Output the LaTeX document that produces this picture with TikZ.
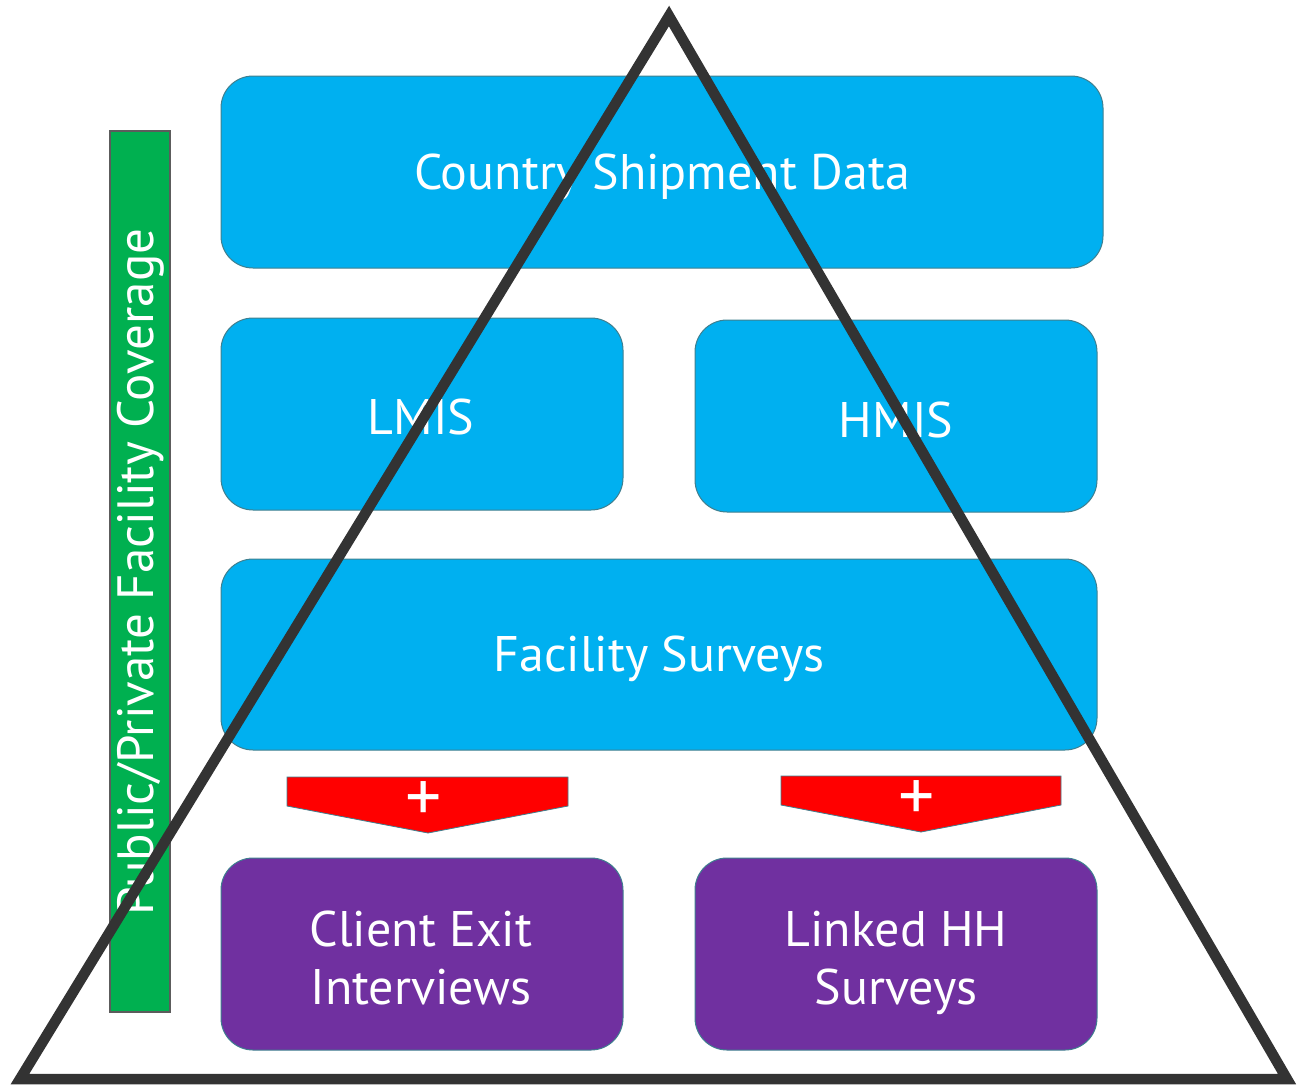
\documentclass[tikz,border=0pt]{standalone}
\usepackage{fontspec}
\setmainfont{PT Sans}
\definecolor{boxblue}{HTML}{00B0F0}
\definecolor{boxpurple}{HTML}{7030A0}
\definecolor{bargreen}{HTML}{00B050}
\definecolor{arrred}{HTML}{FF0000}
\definecolor{tri}{HTML}{333333}
\definecolor{edge}{HTML}{3F7F8F}
\begin{document}
\begin{tikzpicture}[x=1pt,y=-1pt,
  box/.style={draw=edge, line width=1pt, rounded corners=32pt, text=white, align=center,
    inner sep=0pt},
  bluebox/.style={box, fill=boxblue},
  purplebox/.style={box, fill=boxpurple},
  lbl/.style={text=white, inner sep=0pt, font=\fontsize{50}{58}\selectfont},
  redarrow/.style={fill=arrred, draw=edge, line width=0.8pt},
  plus/.style={text=white, font=\fontsize{72}{72}\selectfont, inner sep=0pt}
]
\useasboundingbox (0,0) rectangle (1298,1087);
% green bar
\node[fill=bargreen, draw=tri!80, line width=2pt, minimum width=60pt, minimum height=881pt, inner sep=0pt] (bar) at (140,571.5) {};
\node[rotate=90, text=white, font=\fontsize{51}{51}\selectfont] (bartext) at (141,572) {Public/Private Facility Coverage};
% boxes
\node[bluebox, minimum width=882pt, minimum height=192pt] (csd) at (662,172) {};
\node[lbl] (csdt) at (662,177) {Country Shipment Data};
\node[bluebox, minimum width=402pt, minimum height=192pt] (lmis) at (422,414) {};
\node[lbl] (lmist) at (421,417) {LMIS};
\node[bluebox, minimum width=402pt, minimum height=192pt] (hmis) at (896,416) {};
\node[lbl] (hmist) at (896,420) {HMIS};
\node[bluebox, minimum width=876pt, minimum height=191pt] (fs) at (659,654.5) {};
\node[lbl] (fst) at (659,659) {Facility Surveys};
\node[purplebox, minimum width=402pt, minimum height=192pt] (cei) at (422,954) {};
\node[lbl, align=center] (ceit) at (421,964) {\strut Client Exit\\\strut Interviews};
\node[purplebox, minimum width=402pt, minimum height=192pt] (lhh) at (896,954) {};
\node[lbl, align=center] (lhht) at (896,964) {\strut Linked HH\\\strut Surveys};
% red arrows
\draw[redarrow] (287,777) -- (568,777) -- (568,806) -- (428,833) -- (287,806) -- cycle;
\node[plus] (p1) at (424,802) {+};
\draw[redarrow] (781,776) -- (1061,776) -- (1061,805) -- (921,832) -- (781,805) -- cycle;
\node[plus] (p2) at (917,801) {+};
% triangle
\coordinate (apex) at (669,16);
\coordinate (bl) at (20,1079);
\coordinate (br) at (1287,1079);
\draw[tri, line width=10.5pt, line join=miter] (apex) -- (bl) -- (br) -- cycle;
\end{tikzpicture}
\end{document}
